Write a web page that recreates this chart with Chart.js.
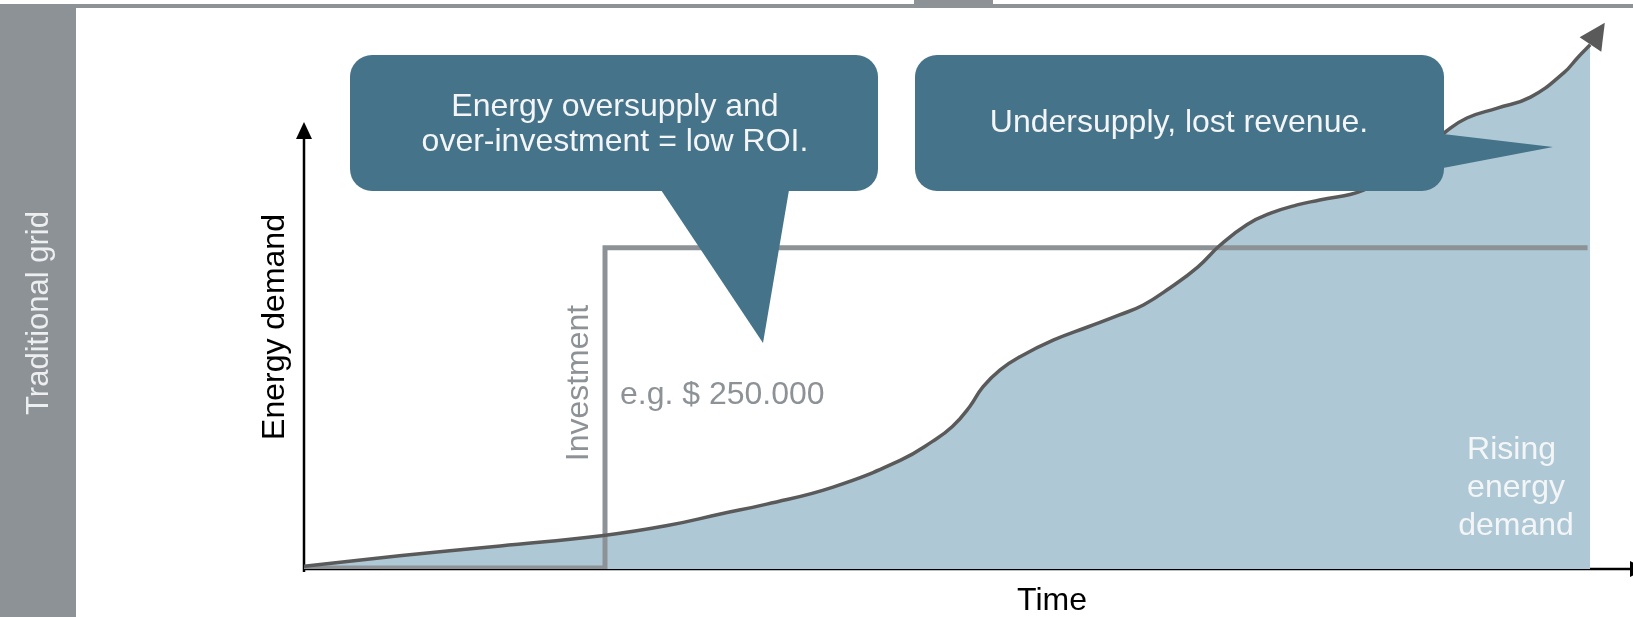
<!DOCTYPE html>
<html>
<head>
<meta charset="utf-8">
<script src="https://cdn.jsdelivr.net/npm/chart.js@4.4.1/dist/chart.umd.min.js"></script>
<style>
    html, body { margin: 0; padding: 0; background: #fff; }
    canvas { display: block; }
</style>
</head>
<body>
<canvas id="grid_chart" width="1633" height="617"></canvas>
<script>
// Time runs 0 - 100, energy demand 0 - 100 (no ticks on the original).
var demandTime  = [0, 7.2, 14.8, 22.6, 27.4, 31.4, 34.9, 39.9, 45.0, 47.4, 48.9, 50.2, 51.2, 52.5,
                   54.0, 56.5, 59.1, 61.5, 63.3, 65.3, 67.4, 69.1, 71.1, 72.9, 74.9, 76.6, 79.9,
                   83.0, 86.1, 87.7, 90.0, 92.5, 95.0, 96.1, 97.0];
var demandValue = [0.5, 2.4, 4.2, 6.1, 7.9, 10.0, 11.8, 14.9, 19.8, 23.2, 25.9, 29.5, 33.1, 36.2,
                   38.6, 41.6, 44.0, 46.2, 48.0, 51.1, 54.9, 58.9, 62.6, 64.7, 66.2, 67.1, 68.9,
                   73.5, 79.5, 82.0, 83.8, 85.8, 90.2, 93.1, 95.3];
var demandArrowTip = [98.1, 99.3];

// One big investment, made once.
var investTime  = [0, 22.7, 96.8];
var investValue = [0.2, 58.4, 58.4];

var sideLabel   = "Traditional grid";
var yTitle      = "Energy demand";
var xTitle      = "Time";
var investLabel = "Investment";
var investNote  = "e.g. $ 250.000";
var overText    = ["Energy oversupply and", "over-investment = low ROI."];
var underText   = ["Undersupply, lost revenue."];
var demandText  = ["Rising ", "energy", "demand"];

var FONT = '32px "Liberation Sans", Arial, sans-serif';
var TEAL = '#44738a';
var GREY = '#8d9297';

function toPoints(xs, ys) {
    return xs.map(function(x, i) { return {x: x, y: ys[i]}; });
}

function roundRect(ctx, x, y, w, h, r) {
    ctx.beginPath();
    ctx.moveTo(x + r, y);
    ctx.arcTo(x + w, y, x + w, y + h, r);
    ctx.arcTo(x + w, y + h, x, y + h, r);
    ctx.arcTo(x, y + h, x, y, r);
    ctx.arcTo(x, y, x + w, y, r);
    ctx.closePath();
}

function arrowHead(ctx, tx, ty, angle, len, half) {
    var bx = tx - len * Math.cos(angle), by = ty - len * Math.sin(angle);
    ctx.beginPath();
    ctx.moveTo(tx, ty);
    ctx.lineTo(bx + half * Math.sin(angle), by - half * Math.cos(angle));
    ctx.lineTo(bx - half * Math.sin(angle), by + half * Math.cos(angle));
    ctx.closePath();
    ctx.fill();
}

function textLines(ctx, lines, x, y, step) {
    lines.forEach(function(l, i) { ctx.fillText(l, x, y + i * step); });
}

function rotText(ctx, t, x, y) {
    ctx.save();
    ctx.translate(x, y);
    ctx.rotate(-Math.PI / 2);
    ctx.fillText(t, 0, 0);
    ctx.restore();
}

var framePlugin = {
    id: 'frame',
    beforeDraw: function(chart) {
        var ctx = chart.ctx;
        ctx.save();
        ctx.fillStyle = '#fff';
        ctx.fillRect(0, 0, chart.width, chart.height);
        ctx.fillStyle = GREY;
        ctx.fillRect(0, 4, chart.width, 4);     // top rule
        ctx.fillRect(914, 0, 79, 8);            // tab on the rule
        ctx.fillRect(0, 4, 76, chart.height);   // side band
        ctx.restore();
    },
    beforeDatasetsDraw: function(chart) {
        // the two axes with arrows
        var ctx = chart.ctx, xs = chart.scales.x, ys = chart.scales.y;
        var x0 = xs.getPixelForValue(0), y0 = ys.getPixelForValue(0);
        ctx.save();
        ctx.strokeStyle = '#000';
        ctx.fillStyle = '#000';
        ctx.lineWidth = 2.5;
        ctx.beginPath();
        ctx.moveTo(x0, y0 + 3);
        ctx.lineTo(x0, 136);
        ctx.moveTo(x0 - 1, y0);
        ctx.lineTo(chart.width, y0);
        ctx.stroke();
        arrowHead(ctx, x0, 122, -Math.PI / 2, 17, 8);
        arrowHead(ctx, chart.width + 14, y0, 0, 17, 8);
        ctx.restore();
    },
    afterDraw: function(chart) {
        var ctx = chart.ctx, xs = chart.scales.x, ys = chart.scales.y;
        ctx.save();

        // arrow at the end of the demand curve
        var n = demandTime.length - 1;
        var bx = xs.getPixelForValue(demandTime[n]), by = ys.getPixelForValue(demandValue[n]);
        var tx = xs.getPixelForValue(demandArrowTip[0]), ty = ys.getPixelForValue(demandArrowTip[1]);
        ctx.fillStyle = '#5a5a5a';
        arrowHead(ctx, tx, ty, Math.atan2(ty - by, tx - bx), 26, 13);

        // callouts
        ctx.fillStyle = TEAL;
        roundRect(ctx, 350, 55, 528, 136, 22);
        ctx.fill();
        ctx.beginPath();
        ctx.moveTo(661, 190); ctx.lineTo(789, 190); ctx.lineTo(763, 343);
        ctx.closePath();
        ctx.fill();

        roundRect(ctx, 915, 55, 529, 136, 22);
        ctx.fill();
        ctx.beginPath();
        ctx.moveTo(1443, 134); ctx.lineTo(1553, 147); ctx.lineTo(1443, 168);
        ctx.closePath();
        ctx.fill();

        ctx.font = FONT;
        ctx.textAlign = 'center';
        ctx.textBaseline = 'middle';

        ctx.fillStyle = '#f4f5f6';
        textLines(ctx, overText, 615, 107, 35);
        textLines(ctx, underText, 1179, 123, 35);
        textLines(ctx, demandText, 1516, 450, 38);

        ctx.fillStyle = '#eceeef';
        ctx.font = '31px "Liberation Sans", Arial, sans-serif';
        rotText(ctx, sideLabel, 39, 313);

        ctx.font = FONT;
        ctx.fillStyle = '#000';
        rotText(ctx, yTitle, 275, 327);
        ctx.fillText(xTitle, 1052, 601);

        ctx.fillStyle = GREY;
        rotText(ctx, investLabel, 579, 383);
        ctx.textAlign = 'left';
        ctx.fillText(investNote, 620, 395);

        ctx.restore();
    }
};

var data = {
    datasets: [
        {
            // area under the demand curve
            data: toPoints(demandTime, demandValue),
            borderWidth: 0,
            backgroundColor: '#aec9d5',
            fill: 'origin',
            tension: 0.45,
            pointRadius: 0,
            order: 3
        },
        {
            data: toPoints(investTime, investValue),
            borderColor: GREY,
            borderWidth: 5,
            stepped: 'before',
            fill: false,
            pointRadius: 0,
            order: 2
        },
        {
            data: toPoints(demandTime, demandValue),
            borderColor: '#5a5a5a',
            borderWidth: 3.5,
            fill: false,
            tension: 0.45,
            pointRadius: 0,
            order: 1
        }
    ]
};

var options = {
    responsive: false,
    animation: false,
    devicePixelRatio: 1,
    layout: {
        padding: { left: 304, right: 3, top: 19, bottom: 48 }
    },
    scales: {
        x: { type: 'linear', min: 0, max: 100, display: false },
        y: { type: 'linear', min: 0, max: 100, display: false }
    },
    plugins: {
        legend: { display: false },
        tooltip: { enabled: false }
    }
};

var chart = new Chart(document.getElementById('grid_chart'), { type: 'line', data: data, options: options, plugins: [framePlugin] });
</script>
</body>
</html>
